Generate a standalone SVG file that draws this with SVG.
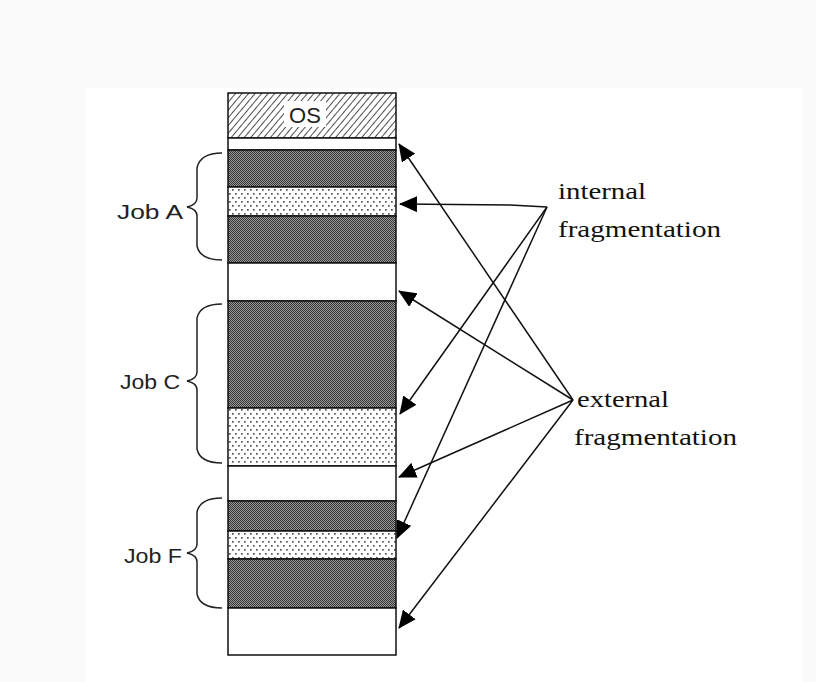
<svg xmlns="http://www.w3.org/2000/svg" width="816" height="682" viewBox="0 0 816 682">
<defs>
<style>
.row{stroke:#111;stroke-width:1.5}
.brace{fill:none;stroke:#222;stroke-width:1.5}
.lbl{font-family:"Liberation Sans",Arial,sans-serif;font-size:20px;fill:#222}
.note{font-family:"Liberation Serif","Times New Roman",serif;font-size:24px;fill:#111}
.conn{stroke:#111;stroke-width:1.5;fill:none;marker-end:url(#ah)}
</style>
<pattern id="dark" width="2" height="2" patternUnits="userSpaceOnUse">
<rect width="2" height="2" fill="#9a9a9a"/>
<rect x="0" y="0" width="1" height="1" fill="#333"/>
<rect x="1" y="1" width="1" height="1" fill="#333"/>
</pattern>
<pattern id="dots" width="6" height="8" patternUnits="userSpaceOnUse">
<rect width="6" height="8" fill="#fff"/>
<rect x="1" y="1" width="1.7" height="1.7" fill="#555"/>
<rect x="4" y="5" width="1.7" height="1.7" fill="#555"/>
</pattern>
<pattern id="hatch" width="5" height="5" patternUnits="userSpaceOnUse" patternTransform="rotate(40)">
<rect width="5" height="5" fill="#fff"/>
<line x1="0" y1="0" x2="0" y2="5" stroke="#222" stroke-width="1.6"/>
</pattern>
<marker id="ah" markerWidth="18" markerHeight="16" refX="17" refY="8" orient="auto" markerUnits="userSpaceOnUse">
<path d="M0,0 L18,8 L0,16 Z" fill="#000"/>
</marker>
</defs>
<rect width="816" height="682" fill="#fbfbfb"/>
<rect x="85" y="88" width="718" height="594" fill="#fff"/>

<g id="memory">
<rect class="row" x="228" y="93" width="168" height="45" fill="url(#hatch)"/>
<rect x="284" y="101" width="42" height="26" fill="#fff"/>
<text x="305" y="123" text-anchor="middle" font-family="'Liberation Sans',Arial,sans-serif" font-size="22" fill="#222">OS</text>
<rect class="row" x="228" y="138" width="168" height="12" fill="#fff"/>
<rect class="row" x="228" y="150" width="168" height="37" fill="url(#dark)"/>
<rect class="row" x="228" y="187" width="168" height="29" fill="url(#dots)"/>
<rect class="row" x="228" y="216" width="168" height="47" fill="url(#dark)"/>
<rect class="row" x="228" y="263" width="168" height="38" fill="#fff"/>
<rect class="row" x="228" y="301" width="168" height="107" fill="url(#dark)"/>
<rect class="row" x="228" y="408" width="168" height="58" fill="url(#dots)"/>
<rect class="row" x="228" y="466" width="168" height="35" fill="#fff"/>
<rect class="row" x="228" y="501" width="168" height="30" fill="url(#dark)"/>
<rect class="row" x="228" y="531" width="168" height="28" fill="url(#dots)"/>
<rect class="row" x="228" y="559" width="168" height="49" fill="url(#dark)"/>
<rect class="row" x="228" y="608" width="168" height="47" fill="#fff"/>
</g>

<g id="jobA">
<path class="brace" d="M222,153 Q200,153 197,168 L197,198 Q197,205 187,207 Q197,209 197,216 L197,246 Q200,260 222,260"/>
<text class="lbl" x="117" y="219" textLength="66" lengthAdjust="spacingAndGlyphs">Job  A</text>
</g>
<g id="jobC">
<path class="brace" d="M222,304 Q200,304 197,318 L197,372 Q197,379 187,381 Q197,383 197,390 L197,449 Q200,463 222,463"/>
<text class="lbl" x="120" y="389" textLength="60" lengthAdjust="spacingAndGlyphs">Job C</text>
</g>
<g id="jobF">
<path class="brace" d="M222,498 Q200,498 197,512 L197,544 Q197,551 187,553 Q197,555 197,562 L197,594 Q200,608 222,608"/>
<text class="lbl" x="124" y="563" textLength="58" lengthAdjust="spacingAndGlyphs">Job F</text>
</g>

<g id="internal">
<text class="note" x="558" y="199" textLength="88" lengthAdjust="spacingAndGlyphs">internal</text>
<text class="note" x="558" y="237" textLength="163" lengthAdjust="spacingAndGlyphs">fragmentation</text>
</g>
<g id="external">
<text class="note" x="577" y="407" textLength="92" lengthAdjust="spacingAndGlyphs">external</text>
<text class="note" x="574" y="445" textLength="163" lengthAdjust="spacingAndGlyphs">fragmentation</text>
</g>

<g id="connectors">
<path class="conn" d="M547,207 L510,205 L400,204"/>
<line class="conn" x1="547" y1="207" x2="400" y2="414"/>
<line class="conn" x1="547" y1="207" x2="397" y2="538"/>
<line class="conn" x1="573" y1="400" x2="399" y2="144"/>
<line class="conn" x1="573" y1="400" x2="399" y2="291"/>
<line class="conn" x1="573" y1="400" x2="399" y2="477"/>
<line class="conn" x1="573" y1="400" x2="399" y2="628"/>
</g>
</svg>
